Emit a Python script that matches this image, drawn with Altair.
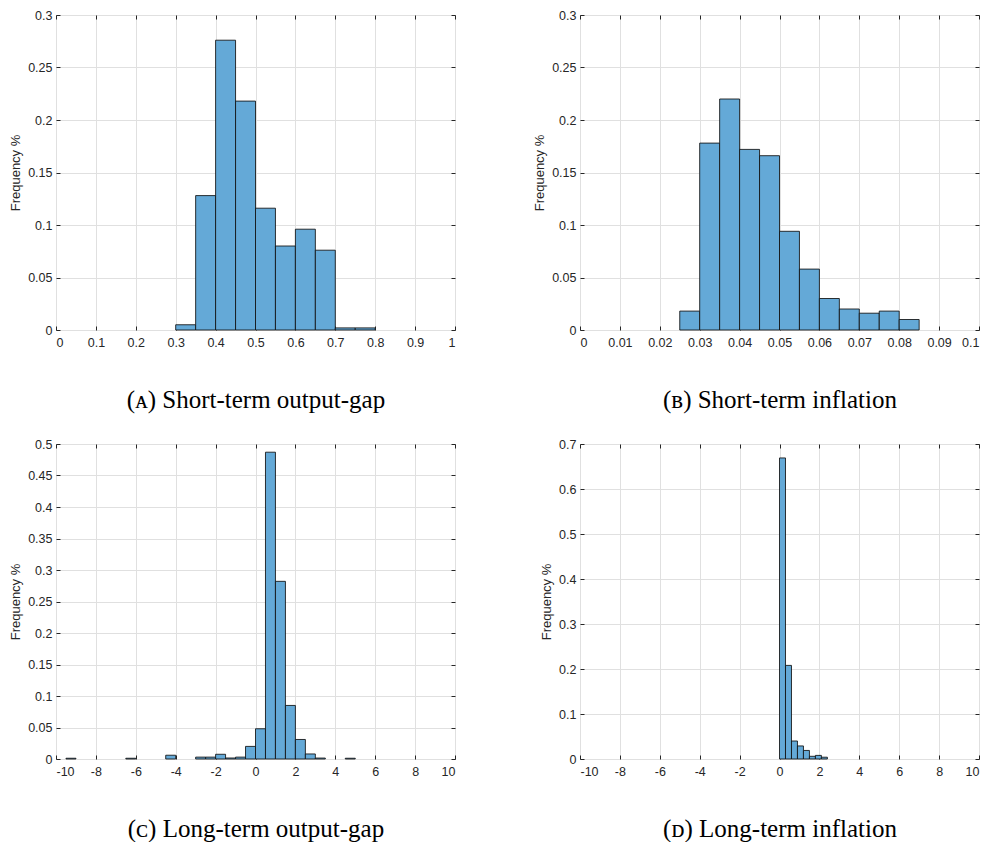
import altair as alt
import pandas as pd

# ---------------- data ----------------
# (A) Short-term output-gap : bin width 0.05
a_start = [0.30, 0.35, 0.40, 0.45, 0.50, 0.55, 0.60, 0.65, 0.70, 0.75]
a_freq = [0.005, 0.128, 0.276, 0.218, 0.116, 0.080, 0.096, 0.076, 0.002, 0.002]
a_width = 0.05

# (B) Short-term inflation : bin width 0.005
b_start = [0.025, 0.030, 0.035, 0.040, 0.045, 0.050, 0.055, 0.060, 0.065, 0.070, 0.075, 0.080]
b_freq = [0.018, 0.178, 0.220, 0.172, 0.166, 0.094, 0.058, 0.030, 0.020, 0.016, 0.018, 0.010]
b_width = 0.005

# (C) Long-term output-gap : bin width 0.5
c_start = [-9.5, -6.5, -4.5, -3.0, -2.5, -2.0, -1.5, -1.0, -0.5, 0.0, 0.5, 1.0, 1.5, 2.0, 2.5, 3.0, 4.5]
c_freq = [0.0012, 0.0012, 0.006, 0.003, 0.003, 0.0075, 0.0016, 0.003, 0.020, 0.048, 0.487, 0.282, 0.085, 0.031, 0.008, 0.0015, 0.0012]
c_width = 0.5

# (D) Long-term inflation : bin width 0.3
d_start = [0.0, 0.3, 0.6, 0.9, 1.2, 1.5, 1.8, 2.1]
d_freq = [0.669, 0.208, 0.040, 0.029, 0.019, 0.006, 0.008, 0.004]
d_width = 0.3

# axis ticks
a_xticks = [0, 0.1, 0.2, 0.3, 0.4, 0.5, 0.6, 0.7, 0.8, 0.9, 1]
b_xticks = [0, 0.01, 0.02, 0.03, 0.04, 0.05, 0.06, 0.07, 0.08, 0.09, 0.1]
cd_xticks = [-10, -8, -6, -4, -2, 0, 2, 4, 6, 8, 10]
ab_yticks = [0, 0.05, 0.1, 0.15, 0.2, 0.25, 0.3]
c_yticks = [0, 0.05, 0.1, 0.15, 0.2, 0.25, 0.3, 0.35, 0.4, 0.45, 0.5]
d_yticks = [0, 0.1, 0.2, 0.3, 0.4, 0.5, 0.6, 0.7]

captions = [
    "(ᴀ) Short-term output-gap",
    "(ʙ) Short-term inflation",
    "(ᴄ) Long-term output-gap",
    "(ᴅ) Long-term inflation",
]

# ---------------- styling ----------------
W, H = 399, 315
FILL = "#64A9D7"
TXT = "#262626"
GRID = "#E0E0E0"
TICK_LEN = 4


def make_df(starts, freqs, width):
    return pd.DataFrame({
        "start": starts,
        "end": [round(s + width, 6) for s in starts],
        "freq": freqs,
    })


def panel(df, xdom, xticks, ydom, yticks, caption):
    base = alt.Chart(df)
    xscale = alt.Scale(domain=xdom, nice=False, zero=False)
    yscale = alt.Scale(domain=ydom, nice=False)
    lab = "datum.value + ''"

    bars = base.mark_bar(
        fill=FILL, stroke="#111111", strokeWidth=1, strokeOpacity=0.85
    ).encode(
        x=alt.X("start:Q", scale=xscale, axis=alt.Axis(
            orient="bottom", values=xticks, labelExpr=lab, grid=True,
            gridColor=GRID, domain=False, offset=-TICK_LEN, tickSize=TICK_LEN,
            tickColor=TXT, labelPadding=6, labelColor=TXT, labelFontSize=12.5,
            labelFont="Liberation Sans", title=caption, titleFont="Liberation Serif",
            titleFontSize=25, titleFontWeight="normal", titleColor="#000000",
            titlePadding=39)),
        x2="end:Q",
        y=alt.Y("freq:Q", scale=yscale, axis=alt.Axis(
            orient="left", values=yticks, labelExpr=lab, grid=True,
            gridColor=GRID, domain=False, offset=-TICK_LEN, tickSize=TICK_LEN,
            tickColor=TXT, labelPadding=4, labelColor=TXT, labelFontSize=12.5,
            labelFont="Liberation Sans", title="Frequency %",
            titleFont="Liberation Sans", titleFontSize=13,
            titleFontWeight="normal", titleColor=TXT, titlePadding=5)),
        y2=alt.datum(0),
    )

    frame = base.mark_bar(opacity=0).encode(
        x=alt.X("start:Q", scale=xscale, axis=alt.Axis(
            orient="top", values=xticks, labels=False, grid=False, domain=False,
            offset=-TICK_LEN, tickSize=TICK_LEN, tickColor=TXT, title=None)),
        x2="end:Q",
        y=alt.Y("freq:Q", scale=yscale, axis=alt.Axis(
            orient="right", values=yticks, labels=False, grid=False, domain=False,
            offset=-TICK_LEN, tickSize=TICK_LEN, tickColor=TXT, title=None)),
        y2=alt.datum(0),
    )

    return alt.layer(bars, frame).resolve_axis(
        x="independent", y="independent"
    ).properties(width=W, height=H)


pa = panel(make_df(a_start, a_freq, a_width), [0, 1], a_xticks, [0, 0.3], ab_yticks, captions[0])
pb = panel(make_df(b_start, b_freq, b_width), [0, 0.1], b_xticks, [0, 0.3], ab_yticks, captions[1])
pc = panel(make_df(c_start, c_freq, c_width), [-10, 10], cd_xticks, [0, 0.5], c_yticks, captions[2])
pd_ = panel(make_df(d_start, d_freq, d_width), [-10, 10], cd_xticks, [0, 0.7], d_yticks, captions[3])

chart = alt.concat(
    pa, pb, pc, pd_, columns=2, spacing={"row": 24, "column": 77}
).properties(
    padding={"left": 1, "top": 0, "right": 0, "bottom": 0}
).configure_view(
    stroke="#4A4A4A", strokeWidth=1
)

chart.save("out.html", embed_options={"renderer": "svg", "actions": False})
